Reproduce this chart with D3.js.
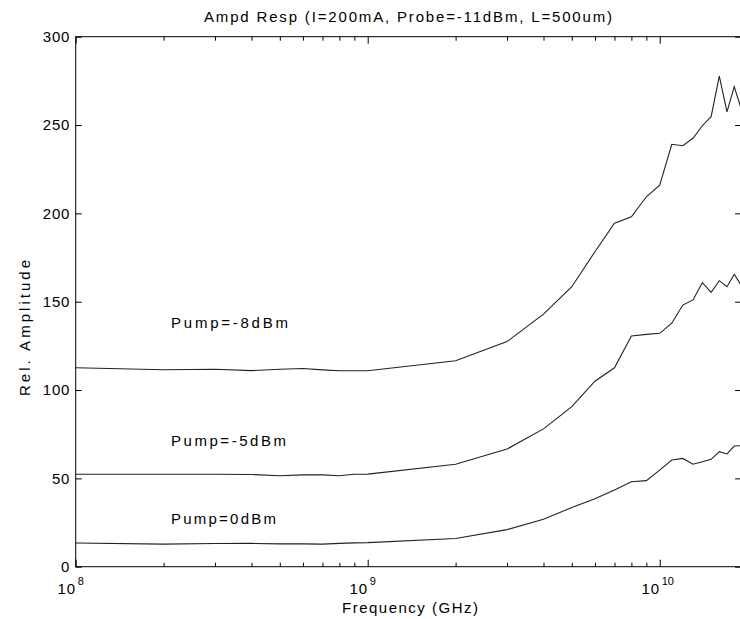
<!DOCTYPE html>
<html>
<head>
<meta charset="utf-8">
<script src="https://cdn.jsdelivr.net/npm/d3@7"></script>
<style>
  body { margin: 0; background: white; }
  text { font-family: "Liberation Sans", Arial, sans-serif; fill: #000; }
</style>
</head>
<body>
<div id="chart"></div>
<script>
// frequencies (Hz) where each curve was sampled
let freqs = [1e8, 2e8, 3e8, 4e8, 5e8, 6e8, 7e8, 8e8, 9e8,
             1e9, 2e9, 3e9, 4e9, 5e9, 6e9, 7e9, 8e9, 9e9,
             1.0e10, 1.1e10, 1.2e10, 1.3e10, 1.4e10, 1.5e10, 1.6e10, 1.7e10, 1.8e10, 1.9e10]

let pumpM8 = [112.6, 111.5, 111.8, 111.0, 111.8, 112.2, 111.4, 110.9, 110.9,
              110.9, 116.6, 127.4, 143.0, 158.5, 178.3, 194.4, 198.1, 209.4,
              216.0, 239.1, 238.3, 242.5, 249.6, 254.7, 277.7, 257.5, 271.7, 259.3]
let pumpM5 = [52.3, 52.3, 52.3, 52.2, 51.5, 52.0, 52.0, 51.5, 52.3,
              52.4, 58.0, 66.6, 78.0, 90.6, 105.0, 112.6, 130.6, 131.5,
              132.1, 137.8, 148.1, 151.0, 160.8, 155.3, 161.9, 158.5, 165.5, 159.4]
let pump0 = [13.4, 12.8, 13.1, 13.2, 12.9, 12.9, 12.8, 13.2, 13.5,
             13.6, 16.0, 21.0, 26.8, 33.5, 38.5, 43.4, 48.1, 48.7,
             54.7, 60.4, 61.3, 58.0, 59.4, 60.8, 65.1, 63.8, 68.3, 68.5]

let seriesNames = ["Pump=-8dBm", "Pump=-5dBm", "Pump=0dBm"]
let yTicks = [0, 50, 100, 150, 200, 250, 300]
let xMajor = [1e8, 1e9, 1e10]
let xMajorExp = ["8", "9", "10"]

const makeChart = () => {
    let w = 740;
    let h = 619;
    let left = 75.7;
    let right = 741.1;
    let top = 36.7;
    let bottom = 566.7;

    const svg = d3.select('#chart')
        .append('svg')
        .attr('width', w)
        .attr('height', h)
        .style('background-color', 'white')

    const xScale = d3.scaleLog()
        .domain([1e8, 1.9e10])
        .range([left, right])

    const yScale = d3.scaleLinear()
        .domain([0, 300])
        .range([bottom, top])

    // minor ticks 2..9 of each decade
    let minor = []
    for (let e = 8; e <= 10; e++) {
        for (let k = 2; k <= 9; k++) {
            let v = k * Math.pow(10, e)
            if (v < 1.9e10) minor.push(v)
        }
    }

    // box
    svg.append('rect')
        .attr('x', left).attr('y', top)
        .attr('width', right - left).attr('height', bottom - top)
        .attr('fill', 'none').attr('stroke', '#000').attr('stroke-width', 1)

    // bottom + top axes, ticks pointing inward
    let xAxisB = d3.axisBottom(xScale).tickValues(xMajor).tickSizeInner(-7).tickSizeOuter(0).tickFormat('')
    let xAxisBm = d3.axisBottom(xScale).tickValues(minor).tickSizeInner(-4).tickSizeOuter(0).tickFormat('')
    let xAxisT = d3.axisTop(xScale).tickValues(xMajor).tickSizeInner(-7).tickSizeOuter(0).tickFormat('')
    let xAxisTm = d3.axisTop(xScale).tickValues(minor).tickSizeInner(-4).tickSizeOuter(0).tickFormat('')

    svg.append('g').attr('transform', `translate(0, ${bottom})`).call(xAxisB)
    svg.append('g').attr('transform', `translate(0, ${bottom})`).call(xAxisBm)
    svg.append('g').attr('transform', `translate(0, ${top})`).call(xAxisT)
    svg.append('g').attr('transform', `translate(0, ${top})`).call(xAxisTm)

    const yAxis = d3.axisLeft(yScale).tickValues(yTicks).tickSizeInner(-6).tickSizeOuter(0).tickPadding(10)
    const yAxisR = d3.axisRight(yScale).tickValues(yTicks).tickSizeInner(-6).tickSizeOuter(0).tickFormat('')

    svg.append('g')
        .attr('transform', `translate(${left}, 0)`)
        .call(yAxis)
        .attr('id', 'y-axis')
    svg.append('g')
        .attr('transform', `translate(${right}, 0)`)
        .call(yAxisR)

    svg.selectAll('.domain').remove()
    svg.selectAll('.tick line').attr('stroke', '#000')
    svg.selectAll('#y-axis .tick text')
        .style('font-size', '15px')
        .style('letter-spacing', '0.8px')
        .attr('dx', '0.3em')

    // x tick labels as 10^n
    xMajor.forEach((v, i) => {
        svg.append('text')
            .attr('x', xScale(v) - 9)
            .attr('y', 594)
            .attr('text-anchor', 'middle')
            .style('font-size', '15px')
            .style('letter-spacing', '0.8px')
            .text('10')
        svg.append('text')
            .attr('x', xScale(v) + 2)
            .attr('y', 585)
            .attr('text-anchor', 'start')
            .style('font-size', '11px')
            .text(xMajorExp[i])
    })

    // curves
    let all = [pumpM8, pumpM5, pump0]
    const line = d3.line()
        .x((d, i) => xScale(freqs[i]))
        .y((d) => yScale(d))

    all.forEach((s) => {
        svg.append('path')
            .datum(s)
            .attr('d', line)
            .attr('fill', 'none')
            .attr('stroke', '#222')
            .attr('stroke-width', 1.1)
    })

    // curve labels
    let labelY = [328, 445.7, 524]
    let labelW = [117, 115, 105]
    seriesNames.forEach((n, i) => {
        svg.append('text')
            .attr('x', 171)
            .attr('y', labelY[i])
            .attr('textLength', labelW[i])
            .attr('lengthAdjust', 'spacing')
            .style('font-size', '15px')
            .text(n)
    })

    // title
    svg.append('text')
        .attr('x', 408)
        .attr('y', 22)
        .attr('text-anchor', 'middle')
        .attr('textLength', 408)
        .attr('lengthAdjust', 'spacing')
        .style('font-size', '15px')
        .text('Ampd Resp (I=200mA, Probe=-11dBm, L=500um)')

    // axis titles
    svg.append('text')
        .attr('x', 410)
        .attr('y', 613)
        .attr('text-anchor', 'middle')
        .attr('textLength', 136)
        .attr('lengthAdjust', 'spacing')
        .style('font-size', '15px')
        .text('Frequency (GHz)')

    svg.append('text')
        .attr('transform', 'translate(30, 328) rotate(-90)')
        .attr('text-anchor', 'middle')
        .attr('textLength', 136)
        .attr('lengthAdjust', 'spacing')
        .style('font-size', '15px')
        .text('Rel. Amplitude')
}

makeChart()
</script>
</body>
</html>
